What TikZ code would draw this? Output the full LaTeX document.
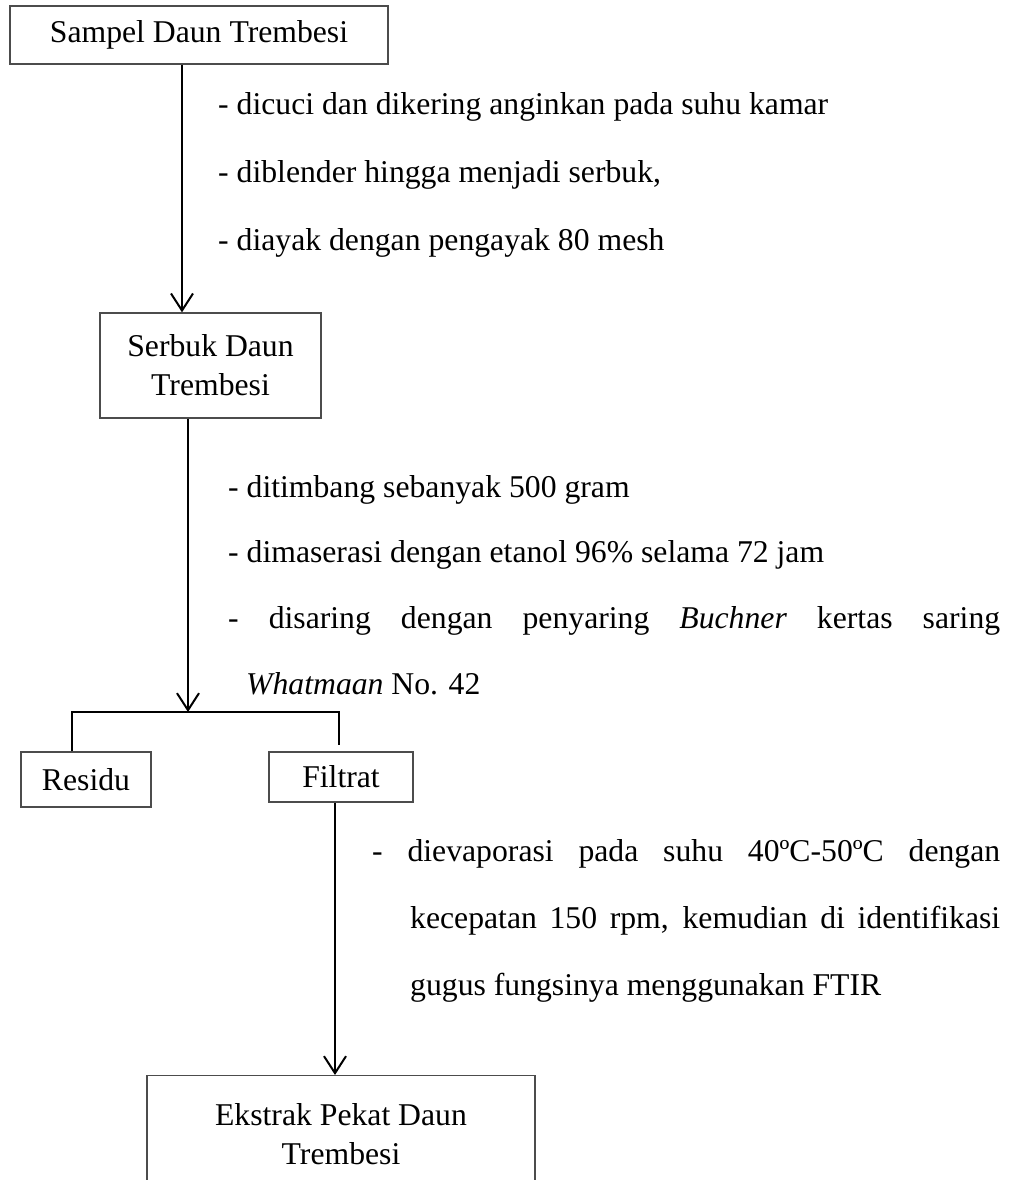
\documentclass[tikz,border=0pt]{standalone}
\usepackage{fontspec}
\setmainfont{Liberation Serif}
\usepackage{tikz}
\usetikzlibrary{positioning, arrows.meta}
\newcommand{\bodyfont}{\fontsize{31.7}{39}\selectfont}

\begin{document}
\begin{tikzpicture}[x=1pt, y=-1pt,
    box/.style={rectangle, draw=black!70, line width=1.3pt, align=center,
                inner sep=0pt, font=\bodyfont},
    arr/.style={-{Straight Barb[length=17pt, width=22pt]}, line width=2pt},
    ln/.style={line width=2pt},
    txt/.style={anchor=base west, inner sep=0pt, font=\bodyfont}
  ]
  \useasboundingbox (0,0) rectangle (1016,1180);
  \clip (0,0) rectangle (1016,1180);

  % Sampel
  \node[box, minimum width=378pt, minimum height=58pt]
        (sampel) at (199,35) {Sampel Daun Trembesi};

  % Serbuk
  \node[box, minimum width=221pt, minimum height=105pt]
        (serbuk) at (210.5,365.5) {Serbuk Daun\\Trembesi};

  % Residu and Filtrat
  \node[box, minimum width=130pt, minimum height=55pt] (residu) at (86,779.5) {Residu};
  \node[box, minimum width=144pt, minimum height=50pt] (filtrat) at (341,777) {Filtrat};

  % Ekstrak (runs past the bottom edge)
  \node[box, minimum width=388pt, minimum height=200pt, anchor=north]
        (ekstrak) at (341,1075) {};
  \node[font=\bodyfont, align=center, inner sep=0pt, below=28pt of ekstrak.north]
        (ekstraklbl) {Ekstrak Pekat Daun\\Trembesi};

  % Sampel -> Serbuk
  \coordinate (c1) at (182,0);
  \draw[arr] (sampel.south -| c1) -- (serbuk.north -| c1);
  \node[txt] (s1a) at (218,114) {- dicuci dan dikering anginkan pada suhu kamar};
  \node[txt] (s1b) at (218,182) {- diblender hingga menjadi serbuk,};
  \node[txt] (s1c) at (218,250) {- diayak dengan pengayak 80 mesh};

  % Serbuk -> split
  \coordinate (c2) at (188,0);
  \coordinate (split) at (188,712);
  \draw[arr] (serbuk.south -| c2) -- (split);
  \node[txt] (s2a) at (228,497) {- ditimbang sebanyak 500 gram};
  \node[txt] (s2b) at (228,562) {- dimaserasi dengan etanol 96\% selama 72 jam};
  \node[txt] (s2c) at (228,628)
        {\makebox[772pt][s]{- disaring dengan penyaring \textit{Buchner} kertas saring}};
  \node[txt] (s2d) at (246,694) {\textit{Whatmaan} No. 42};

  % split -> Residu / Filtrat
  \coordinate (splitL) at (72,712);
  \coordinate (splitR) at (339,712);
  \draw[ln] (residu.north -| splitL) -- (splitL) -- (splitR)
        -- ([yshift=6pt]filtrat.north -| splitR);

  % Filtrat -> Ekstrak
  \coordinate (c3) at (335,0);
  \draw[arr] (filtrat.south -| c3) -- (ekstrak.north -| c3);
  \node[txt] (s3a) at (372,861)
        {\makebox[628pt][s]{- dievaporasi pada suhu 40ºC-50ºC dengan}};
  \node[txt] (s3b) at (410,928)
        {\makebox[590pt][s]{kecepatan 150 rpm, kemudian di identifikasi}};
  \node[txt] (s3c) at (410,995) {gugus fungsinya menggunakan FTIR};
\end{tikzpicture}
\end{document}
